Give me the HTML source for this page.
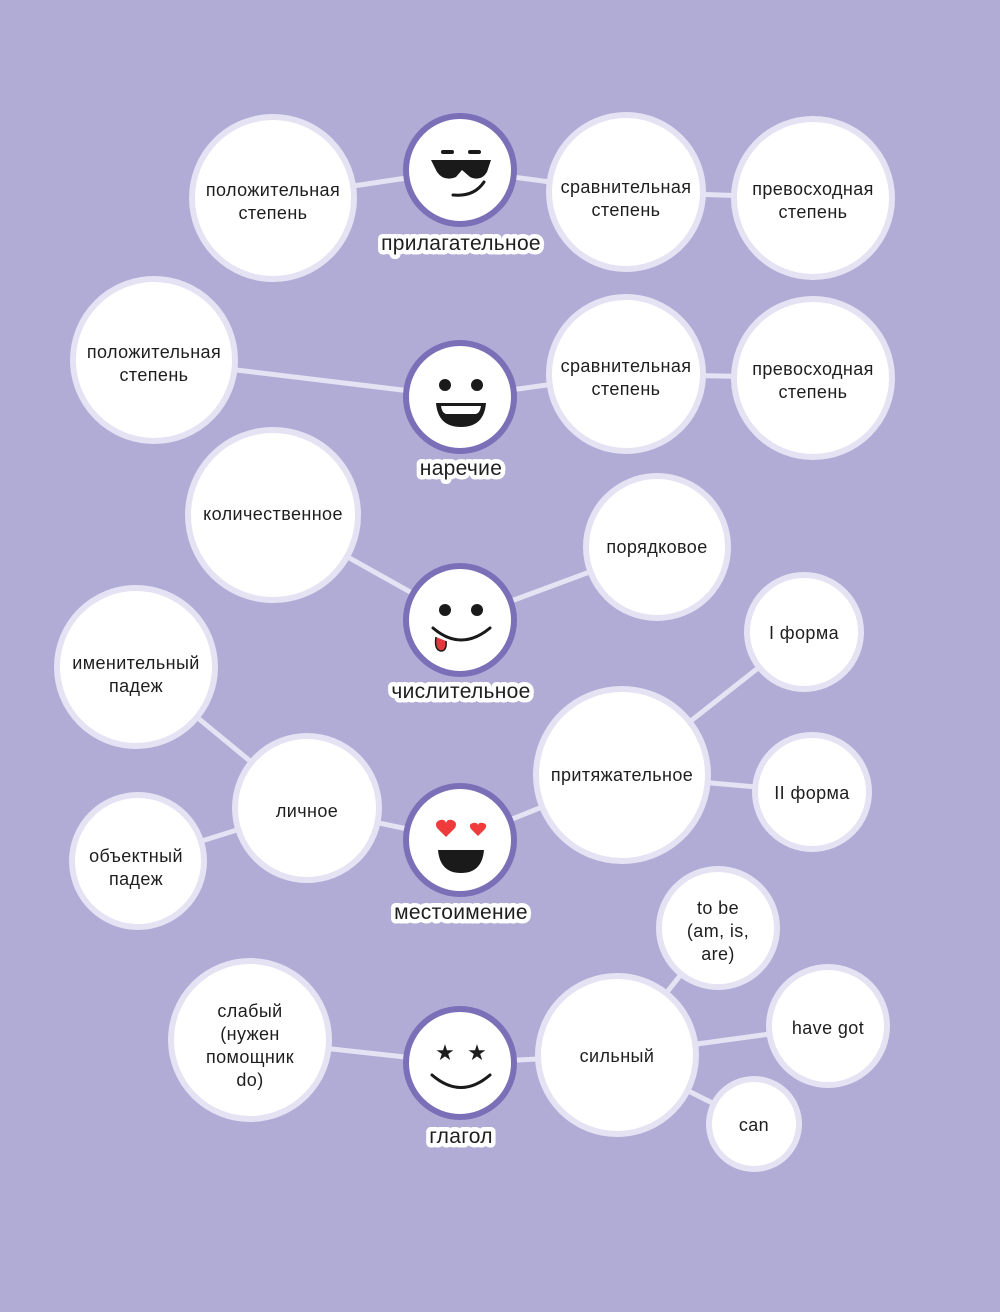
<!DOCTYPE html>
<html><head><meta charset="utf-8"><style>
html,body{margin:0;padding:0;background:#b0acd6;}
svg{display:block}
text{font-family:"Liberation Sans","DejaVu Sans",sans-serif;fill:#1e1e1e;text-anchor:middle}
.n{font-size:18px;letter-spacing:0.4px}
.l{font-size:21px;letter-spacing:0.3px;stroke:#fff;stroke-width:9px;stroke-linejoin:round;paint-order:stroke}
.c{fill:#fff;stroke:#e4e2f3;stroke-width:6}
.e{fill:#fff;stroke:#7b6fb8;stroke-width:6}
.ln{stroke:#e4e2f3;stroke-width:5;fill:none}
.k{fill:#1a1a1a}
.m{stroke:#1a1a1a;stroke-width:3;fill:none;stroke-linecap:round}
</style></head><body>
<svg width="1000" height="1312" viewBox="0 0 1000 1312">
<rect width="1000" height="1312" fill="#b0acd6"/>
<g class="ln">
<line x1="273" y1="198" x2="460" y2="170"/><line x1="460" y1="170" x2="626" y2="192"/><line x1="626" y1="192" x2="813" y2="198"/>
<line x1="154" y1="360" x2="460" y2="397"/><line x1="460" y1="397" x2="626" y2="374"/><line x1="626" y1="374" x2="813" y2="378"/>
<line x1="273" y1="515" x2="460" y2="620"/><line x1="460" y1="620" x2="657" y2="547"/>
<line x1="136" y1="667" x2="307" y2="808"/><line x1="138" y1="861" x2="307" y2="808"/><line x1="307" y1="808" x2="460" y2="840"/><line x1="460" y1="840" x2="622" y2="775"/><line x1="622" y1="775" x2="804" y2="632"/><line x1="622" y1="775" x2="812" y2="792"/>
<line x1="250" y1="1040" x2="460" y2="1063"/><line x1="460" y1="1063" x2="617" y2="1055"/><line x1="617" y1="1055" x2="718" y2="928"/><line x1="617" y1="1055" x2="828" y2="1026"/><line x1="617" y1="1055" x2="754" y2="1124"/>
</g>
<circle class="c" cx="273" cy="198" r="81"/><circle class="c" cx="626" cy="192" r="77"/><circle class="c" cx="813" cy="198" r="79"/>
<circle class="c" cx="154" cy="360" r="81"/><circle class="c" cx="626" cy="374" r="77"/><circle class="c" cx="813" cy="378" r="79"/>
<circle class="c" cx="273" cy="515" r="85"/><circle class="c" cx="657" cy="547" r="71"/>
<circle class="c" cx="136" cy="667" r="79"/><circle class="c" cx="307" cy="808" r="72"/><circle class="c" cx="138" cy="861" r="66"/><circle class="c" cx="622" cy="775" r="86"/><circle class="c" cx="804" cy="632" r="57"/><circle class="c" cx="812" cy="792" r="57"/>
<circle class="c" cx="250" cy="1040" r="79"/><circle class="c" cx="617" cy="1055" r="79"/><circle class="c" cx="718" cy="928" r="59"/><circle class="c" cx="828" cy="1026" r="59"/><circle class="c" cx="754" cy="1124" r="45"/>
<circle class="e" cx="460" cy="170" r="54"/><circle class="e" cx="460" cy="397" r="54"/><circle class="e" cx="460" cy="620" r="54"/><circle class="e" cx="460" cy="840" r="54"/><circle class="e" cx="460" cy="1063" r="54"/>
<!-- face 1 -->
<rect x="441" y="150" width="13" height="4" rx="2" class="k"/><rect x="468" y="150" width="13" height="4" rx="2" class="k"/>
<path class="k" d="M431 160 H491 L487 172 Q481 182 470 177 L462 170 L456 177 Q444 182 437 172 Z"/>
<path class="m" d="M453 195 Q474 197 484 182"/>
<!-- face 2 -->
<circle class="k" cx="445" cy="385" r="6"/><circle class="k" cx="477" cy="385" r="6"/>
<path class="k" d="M436 403 H486 Q484 427 461 427 Q438 427 436 403 Z"/>
<path fill="#fff" d="M441 406 H481 Q480 413 476 414 H446 Q442 413 441 406Z"/>
<!-- face 3 -->
<circle class="k" cx="445" cy="610" r="6"/><circle class="k" cx="477" cy="610" r="6"/>
<path class="m" d="M433 628 Q461 652 490 628"/>
<path d="M436 637 Q434 650 441 651 Q447 651 446 641" fill="#e0393e" stroke="#1a1a1a" stroke-width="1.5"/>
<!-- face 4 -->
<path fill="#ef3b3b" d="M446 837 L437 828 Q434 822 440 820 Q445 819 446 823 Q447 819 452 820 Q458 822 455 828 Z"/>
<path fill="#ef3b3b" d="M478 836 L471 829 Q468 824 473 823 Q477 822 478 825 Q479 822 483 823 Q488 824 485 829 Z"/>
<path class="k" d="M438 850 H484 Q482 873 461 873 Q440 873 438 850 Z"/>
<!-- face 5 -->
<text x="445" y="1060" style="font-size:22px">★</text><text x="477" y="1060" style="font-size:22px">★</text>
<path class="m" d="M432 1075 Q461 1100 490 1075"/>
<g class="n">
<text x="273" y="196">положительная</text><text x="273" y="219">степень</text>
<text x="626" y="193">сравнительная</text><text x="626" y="216">степень</text>
<text x="813" y="195">превосходная</text><text x="813" y="218">степень</text>
<text x="154" y="358">положительная</text><text x="154" y="381">степень</text>
<text x="626" y="372">сравнительная</text><text x="626" y="395">степень</text>
<text x="813" y="375">превосходная</text><text x="813" y="398">степень</text>
<text x="273" y="520">количественное</text>
<text x="657" y="553">порядковое</text>
<text x="136" y="669">именительный</text><text x="136" y="692">падеж</text>
<text x="307" y="817">личное</text>
<text x="136" y="862">объектный</text><text x="136" y="885">падеж</text>
<text x="622" y="781">притяжательное</text>
<text x="804" y="639">I  форма</text>
<text x="812" y="799">II  форма</text>
<text x="250" y="1017">слабый</text><text x="250" y="1040">(нужен</text><text x="250" y="1063">помощник</text><text x="250" y="1086">do)</text>
<text x="617" y="1062">сильный</text>
<text x="718" y="914">to  be</text><text x="718" y="937">(am,  is,</text><text x="718" y="960">are)</text>
<text x="828" y="1034">have  got</text>
<text x="754" y="1131">can</text>
</g>
<g class="l">
<text x="461" y="250">прилагательное</text>
<text x="461" y="475">наречие</text>
<text x="461" y="698">числительное</text>
<text x="461" y="919">местоимение</text>
<text x="461" y="1143">глагол</text>
</g>
</svg>
</body></html>
